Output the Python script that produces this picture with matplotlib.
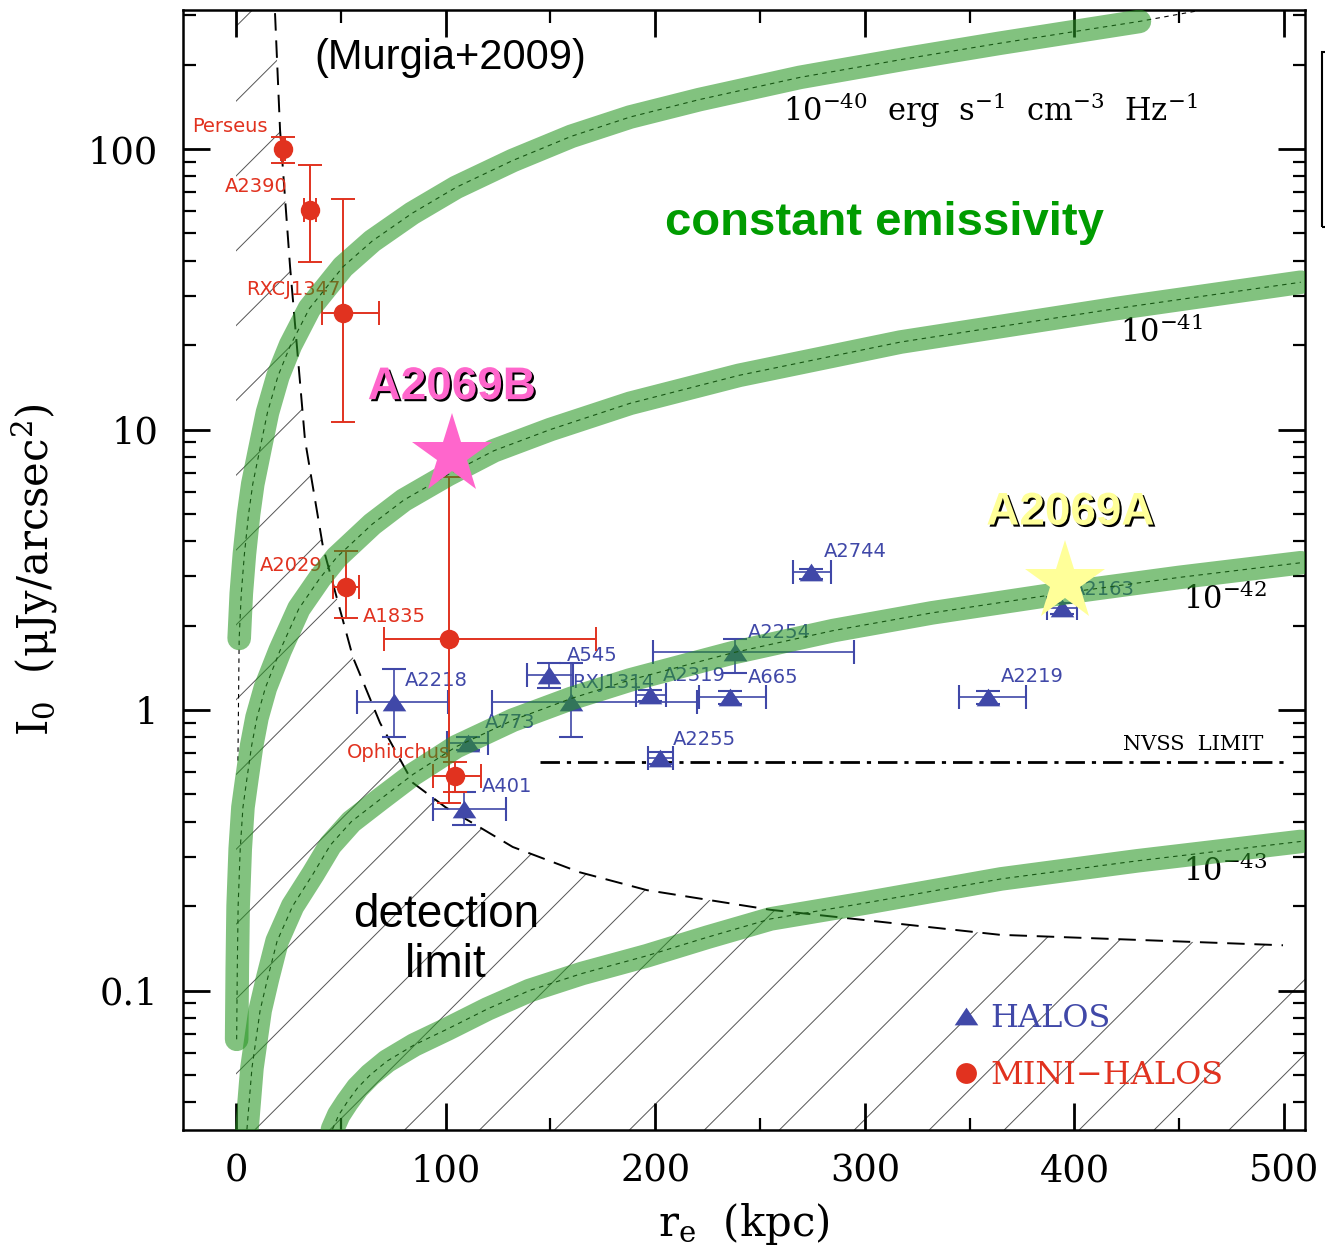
import matplotlib
matplotlib.use("Agg")
import matplotlib.pyplot as plt
import matplotlib.patheffects as pe
from matplotlib.lines import Line2D
from matplotlib.patches import Polygon, Rectangle
from matplotlib.collections import LineCollection
from matplotlib.path import Path
from matplotlib.ticker import MultipleLocator, LogLocator, NullFormatter, FuncFormatter
import numpy as np

plt.rcParams['font.family'] = 'DejaVu Serif'
plt.rcParams['mathtext.fontset'] = 'dejavuserif'

# constant emissivity curves (re in kpc, I0 in muJy/arcsec^2)
re_40 = [1.5, 2.5, 4, 6, 8, 11.5, 15, 20, 26, 35, 51, 65, 84, 105, 132, 160, 188,
         221, 269, 320, 364, 431]
I_40 = [1.8, 2.6, 3.6, 5.0, 6.4, 8.6, 11.5, 15.5, 20, 27, 38, 47, 59, 73, 91, 111, 130,
        150, 180, 210, 238, 285]
re_41 = [0.3, 0.6, 1.0, 2.0, 3.3, 5.2, 7.5, 10, 14, 21, 30, 40, 48, 65, 80, 101, 123,
         150, 188, 240, 317, 420, 508]
I_41 = [0.067, 0.12, 0.2, 0.32, 0.45, 0.57, 0.75, 0.94, 1.2, 1.63, 2.3, 2.95, 3.5, 4.6,
        5.6, 6.9, 8.4, 10.0, 12.4, 15.6, 20.5, 27, 33.5]
re_42 = [5.2, 7.6, 11.5, 15, 19.6, 27, 36.7, 45, 55, 68.7, 84.5, 105, 132, 160, 188, 237,
         285, 332, 396, 450, 508]
I_42 = [0.032, 0.053, 0.085, 0.11, 0.15, 0.2, 0.26, 0.33, 0.40, 0.48, 0.59, 0.74, 0.92,
        1.10, 1.28, 1.6, 1.92, 2.22, 2.62, 2.97, 3.35]
re_43 = [46, 49, 53, 58, 64, 72, 85, 101, 120, 140, 165, 196, 225, 255, 300, 365, 430, 508]
I_43 = [0.032, 0.036, 0.040, 0.045, 0.050, 0.056, 0.064, 0.073, 0.086, 0.10, 0.115, 0.133,
        0.155, 0.18, 0.205, 0.25, 0.29, 0.34]
# thin model line of the 1e-40 curve reaches further than the green band
re_40_ext = [0.9, 466]
I_40_ext = [0.66, 318]

# detection limit (dashed curve)
lim_re = [18.6, 21, 25.8, 32.9, 41.5, 55.8, 68.7, 84.4, 100, 113, 132, 164, 196, 255,
          364.5, 499.5]
lim_I = [305, 117, 37.9, 9.18, 3.81, 1.54, 0.90, 0.55, 0.45, 0.395, 0.325, 0.264, 0.228,
         0.194, 0.158, 0.145]

# NVSS limit
nvss_re = [145, 500]
nvss_I = [0.653, 0.653]

# halos
halo_names = ["A2744", "A2163", "A2254", "A2319", "A665", "A2219", "A2255",
              "A545", "RXJ1314", "A773", "A2218", "A401"]
halo_re = [274.3, 394, 238, 197.5, 235.7, 358.8, 202.3, 149.3, 159.8, 110.7, 75.4, 108.8]
halo_I = [3.10, 2.31, 1.61, 1.13, 1.11, 1.11, 0.675, 1.33, 1.07, 0.762, 1.07, 0.444]
halo_re_lo = [265.7, 387, 199, 191, 221, 345, 196.6, 139, 122, 100.7, 57.7, 94]
halo_re_hi = [283.9, 401, 295, 205, 253, 377, 208.5, 161, 220, 120, 101, 129]
halo_I_lo = [2.93, 2.20, 1.36, 1.08, 1.05, 1.05, 0.64, 1.20, 0.80, 0.72, 0.80, 0.39]
halo_I_hi = [3.17, 2.40, 1.79, 1.18, 1.17, 1.17, 0.71, 1.47, 1.47, 0.80, 1.40, 0.51]
# label offsets in points
halo_lab_dx = [9, 7, 9, 9, 13, 9, 9, 13, 1, 12, 8, 13]
halo_lab_dy = [15, 13, 14, 14, 14, 15, 13, 14, 14, 15, 15, 16]

# mini-halos
mh_names = ["Perseus", "A2390", "RXCJ1347", "A2029", "A1835", "Ophiuchus"]
mh_re = [22.4, 35.3, 51.0, 52.5, 101.6, 104.5]
mh_I = [100, 60.7, 26.0, 2.74, 1.79, 0.582]
mh_re_lo = [21.5, 32.5, 41.0, 46.3, 70.6, 94]
mh_re_hi = [23.5, 38.0, 68.2, 58.7, 171.8, 117]
mh_I_lo = [89, 39.5, 10.6, 2.13, 0.466, 0.51]
mh_I_hi = [110, 87.7, 66.4, 3.69, 6.78, 0.653]
mh_lab_dx = [-11, -16, -2, -17, -17, -4]
mh_lab_dy = [16, 17, 17, 16, 16, 17]

# A2069 stars
star_re = [103, 395.5]
star_I = [8.1, 2.86]
star_names = ["A2069B", "A2069A"]
star_colors = ["#ff66cc", "#ffff99"]

red = "#e1321f"
blue = "#4048a8"
green = "#289623"

fig = plt.figure(figsize=(13.25, 12.49), dpi=100)
ax = fig.add_axes([183 / 1325, 1 - 1130 / 1249, 1122 / 1325, 1120 / 1249])
ax.set_yscale('log')
ax.set_xlim(-25.3, 510)
ax.set_ylim(0.03183, 313)

# hatched detection-limit region
ylo, yhi = ax.get_ylim()
verts = [(0, ylo), (0, yhi), (lim_re[0], yhi)] + list(zip(lim_re, lim_I)) + \
        [(510, lim_I[-1]), (510, ylo)]
region = Polygon(verts, closed=True, facecolor='none', edgecolor='none',
                 transform=ax.transData)
ax.add_patch(region)
offs = np.arange(-1.2, 1.2, 0.0668)
segs = [[(c, 0), (c + 1.2, 1.2)] for c in offs + 0.0615]
hatch = LineCollection(segs, colors='#555555', linewidths=0.7,
                       transform=ax.transAxes, zorder=1)
hatch.set_clip_path(region)
ax.add_collection(hatch)

ax.plot(lim_re, lim_I, color='black', lw=1.4, dashes=(9, 5), zorder=2)
ax.plot(nvss_re, nvss_I, color='black', lw=2, dashes=(7, 2.5, 1.5, 2.5), zorder=2)

# halos
tri = Path([(-1, -0.75), (1, -0.75), (0, 0.75), (-1, -0.75)])
hre = np.array(halo_re)
hI = np.array(halo_I)
ax.errorbar(hre, hI,
            xerr=[hre - np.array(halo_re_lo), np.array(halo_re_hi) - hre],
            yerr=[hI - np.array(halo_I_lo), np.array(halo_I_hi) - hI],
            fmt='none', ecolor=blue, elinewidth=1.2, capsize=8.5, capthick=1.5, zorder=3)
ax.plot(hre, hI, ls='none', marker=tri, ms=17, color=blue, mew=0, zorder=3)
for n, x, y, dx, dy in zip(halo_names, halo_re, halo_I, halo_lab_dx, halo_lab_dy):
    ax.annotate(n, (x, y), xytext=(dx, dy), textcoords='offset points',
                ha='left', va='center', color=blue, fontsize=14,
                family='DejaVu Sans', zorder=3)

# mini-halos
mre = np.array(mh_re)
mI = np.array(mh_I)
ax.errorbar(mre, mI,
            xerr=[mre - np.array(mh_re_lo), np.array(mh_re_hi) - mre],
            yerr=[mI - np.array(mh_I_lo), np.array(mh_I_hi) - mI],
            fmt='none', ecolor=red, elinewidth=1.4, capsize=8.5, capthick=1.4, zorder=3)
ax.plot(mre, mI, ls='none', marker='o', ms=14, color=red, mew=0, zorder=3)
for n, x, y, dx, dy in zip(mh_names, mh_re, mh_I, mh_lab_dx, mh_lab_dy):
    ax.annotate(n, (x, y), xytext=(dx, dy), textcoords='offset points',
                ha='right', va='center', color=red, fontsize=14,
                family='DejaVu Sans', zorder=3)

# constant emissivity bands with the thin model line inside
ax.plot(re_40_ext[:1] + re_40 + re_40_ext[1:], I_40_ext[:1] + I_40 + I_40_ext[1:],
        color='black', lw=0.8, dashes=(4, 4), zorder=4)
for rr, ii in [(re_41, I_41), (re_42, I_42), (re_43, I_43)]:
    ax.plot(rr, ii, color='black', lw=0.8, dashes=(4, 4), zorder=4)
for rr, ii in [(re_40, I_40), (re_41, I_41), (re_42, I_42), (re_43, I_43)]:
    ax.plot(rr, ii, color=green, alpha=0.58, lw=17, solid_capstyle='round',
            solid_joinstyle='round', zorder=5)

# A2069 stars
for x, y, n, c, dx, dy in zip(star_re, star_I, star_names, star_colors, [0, 4], [49, 50]):
    ax.plot(x, y, marker='*', ms=60, color=c, mew=0, zorder=6)
    ax.annotate(n, (x, y), xytext=(dx, dy), textcoords='offset points',
                ha='center', va='center', color=c, fontsize=33, fontweight='bold',
                family='Liberation Sans', zorder=7,
                path_effects=[pe.withSimplePatchShadow(offset=(1.5, -1.5),
                                                       shadow_rgbFace='black', alpha=1)])

# texts
ax.text(0.238, 0.957, "(Murgia+2009)", transform=ax.transAxes, ha='center', va='center',
        fontsize=30, family='Liberation Sans')
ax.text(0.6248, 0.8098, "constant emissivity", transform=ax.transAxes, ha='center',
        va='center', fontsize=34, fontweight='bold', color='#009c00', family='Liberation Sans')
ax.text(0.2344, 0.1696, "detection\nlimit", transform=ax.transAxes, ha='center',
        va='center', fontsize=33, family='Liberation Sans', linespacing=1.15)
ax.text(0.535, 0.9107, r'$10^{-40}\ \ \mathrm{erg\ \ s^{-1}\ \ cm^{-3}\ \ Hz^{-1}}$',
        transform=ax.transAxes, ha='left', va='center', fontsize=22)
ax.text(0.835, 0.7116, r'$10^{-41}$', transform=ax.transAxes, ha='left', va='center', fontsize=22)
ax.text(0.8913, 0.4732, r'$10^{-42}$', transform=ax.transAxes, ha='left', va='center', fontsize=22)
ax.text(0.8913, 0.2304, r'$10^{-43}$', transform=ax.transAxes, ha='left', va='center', fontsize=22)
ax.text(0.9626, 0.3446, "NVSS  LIMIT", transform=ax.transAxes, ha='right', va='center',
        fontsize=15)

# legend
handles = [Line2D([], [], marker=tri, ls='none', color=blue, ms=17, mew=0),
           Line2D([], [], marker='o', ls='none', color=red, ms=15, mew=0)]
ax.legend(handles, ["HALOS", "MINI\u2212HALOS"], labelcolor=[blue, red],
          prop={'family': 'DejaVu Serif', 'size': 23}, frameon=False,
          loc='upper left', bbox_to_anchor=(0.684, 0.113), handlelength=1,
          handletextpad=0.25, labelspacing=0.8, borderpad=0, borderaxespad=0)

# axes styling
ax.xaxis.set_major_locator(MultipleLocator(100))
ax.xaxis.set_minor_locator(MultipleLocator(50))
ax.yaxis.set_major_locator(LogLocator(base=10))
ax.yaxis.set_minor_locator(LogLocator(base=10, subs=np.arange(2, 10)))
ax.yaxis.set_minor_formatter(NullFormatter())
ax.yaxis.set_major_formatter(FuncFormatter(lambda v, p: f'{v:g}'))
ax.tick_params(which='both', direction='in', top=True, right=True, labelsize=26.5)
ax.tick_params(which='major', length=19.5, width=2)
ax.tick_params(which='minor', length=9, width=1.6)
ax.tick_params(axis='x', pad=17)
ax.tick_params(axis='y', pad=18)
for s in ax.spines.values():
    s.set_linewidth(1.8)

ax.set_xlabel(r'$\mathrm{r_e\ \ (kpc)}$', fontsize=30, labelpad=8)
ax.set_ylabel(r'$\mathrm{I_0\ \ (\mu Jy/arcsec^2)}$', fontsize=30, labelpad=20)

# edge of a box cut off at the right border
fig.add_artist(Rectangle((1322 / 1325, 1 - 227 / 1249), 0.05, 175 / 1249,
                         transform=fig.transFigure, fill=False, lw=1.5, color='black'))

fig.savefig("out.png", dpi=100)
